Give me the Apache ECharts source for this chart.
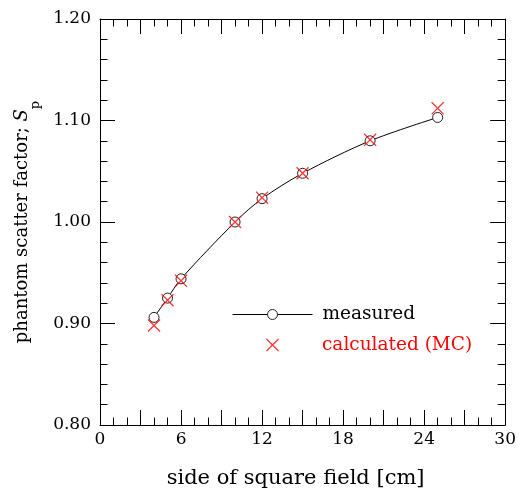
<!DOCTYPE html>
<html>
<head>
<meta charset="utf-8">
<script src="https://cdn.jsdelivr.net/npm/echarts@6/dist/echarts.min.js"></script>
<style>
  html, body { margin: 0; padding: 0; background: #fff; }
  #chart { width: 519px; height: 494px; }
</style>
</head>
<body>
<div id="chart"></div>
<script>
// Side of square field [cm]
const fieldSizes = [4, 5, 6, 10, 12, 15, 20, 25];
// Phantom scatter factor Sp, measured
const measured = [0.906, 0.925, 0.944, 1.000, 1.023, 1.048, 1.080, 1.103];
// Phantom scatter factor Sp, Monte Carlo calculation
const calculated = [0.898, 0.923, 0.942, 1.000, 1.024, 1.048, 1.081, 1.112];

const xTicks = { min: 0, max: 30, interval: 3, labelStep: 6 };
const yTicks = { min: 0.8, max: 1.2, interval: 0.1 };

const FONT = 'DejaVu Serif';
const RED = '#ff0000';
// thin filled "x" marker
const CROSS = 'path://M0,0.7L0.7,0L10,9.3L9.3,10Z M9.3,0L10,0.7L0.7,10L0,9.3Z';

const chart = echarts.init(document.getElementById('chart'), null, { renderer: 'canvas' });

function xAxisCfg(pos, labels) {
  return {
    type: 'value', position: pos, min: xTicks.min, max: xTicks.max, interval: xTicks.interval,
    axisLine: { show: true, onZero: false, lineStyle: { color: '#000', width: 1 } },
    axisTick: { show: true, inside: true, length: 15, lineStyle: { color: '#000', width: 1 } },
    minorTick: { show: true, splitNumber: 3, length: 7.5, lineStyle: { color: '#000', width: 1 } },
    splitLine: { show: false },
    axisLabel: {
      show: labels, margin: 6, color: '#000', fontFamily: FONT, fontSize: 17,
      formatter: v => (v % xTicks.labelStep === 0 ? String(v) : '')
    }
  };
}
function yAxisCfg(pos, labels) {
  return {
    type: 'value', position: pos, min: yTicks.min, max: yTicks.max, interval: yTicks.interval,
    axisLine: { show: true, onZero: false, lineStyle: { color: '#000', width: 1 } },
    axisTick: { show: true, inside: true, length: 15, lineStyle: { color: '#000', width: 1 } },
    minorTick: { show: true, splitNumber: 5, length: 7.5, lineStyle: { color: '#000', width: 1 } },
    splitLine: { show: false },
    axisLabel: {
      show: labels, margin: 9, color: '#000', fontFamily: FONT, fontSize: 17,
      formatter: v => v.toFixed(2)
    }
  };
}

const xBottom = Object.assign(xAxisCfg('bottom', true), {
  name: 'side of square field [cm]', nameLocation: 'middle', nameGap: 43,
  nameTextStyle: { fontFamily: FONT, fontSize: 21, color: '#000', padding: [0, 14, 0, 0] }
});
const yLeft = Object.assign(yAxisCfg('left', true), {
  name: '{a|phantom scatter factor; }{s|S}{p|p}', nameLocation: 'middle', nameRotate: 90, nameGap: 49,
  nameTextStyle: {
    fontFamily: FONT, fontSize: 18, color: '#000',
    rich: {
      a: { fontFamily: FONT, fontSize: 18, lineHeight: 40, verticalAlign: 'middle' },
      s: { fontFamily: FONT, fontSize: 18, fontStyle: 'italic', lineHeight: 40, verticalAlign: 'middle' },
      p: { fontFamily: FONT, fontSize: 13, lineHeight: 18, verticalAlign: 'bottom' }
    }
  }
});

const option = {
  animation: false,
  backgroundColor: '#fff',
  grid: { left: 100, right: 11, top: 19, bottom: 68, containLabel: false },
  xAxis: [xBottom, xAxisCfg('top', false)],
  yAxis: [yLeft, yAxisCfg('right', false)],
  legend: [
    {
      left: 232, top: 305, padding: 0, orient: 'vertical', itemWidth: 80, itemHeight: 12.5,
      selectedMode: false,
      lineStyle: { width: 1, color: '#000' },
      itemStyle: { borderWidth: 1, borderColor: '#222', color: '#fff' },
      textStyle: { fontFamily: FONT, fontSize: 18.5, color: '#000', padding: [0, 0, 0, 5] },
      data: ['measured']
    },
    {
      left: 266, top: 335.5, padding: 0, orient: 'vertical', itemWidth: 13, itemHeight: 13,
      selectedMode: false,
      textStyle: { fontFamily: FONT, fontSize: 18.5, color: RED, padding: [0, 0, 0, 38] },
      data: ['calculated (MC)']
    }
  ],
  series: [
    {
      name: 'measured', type: 'line', xAxisIndex: 0, yAxisIndex: 0,
      data: fieldSizes.map((x, i) => [x, measured[i]]),
      smooth: 0.3,
      symbol: 'circle', symbolSize: 10, showAllSymbol: true,
      lineStyle: { color: '#000', width: 1 },
      itemStyle: { color: '#fff', borderColor: '#222', borderWidth: 1 },
      z: 2
    },
    {
      name: 'calculated (MC)', type: 'scatter', xAxisIndex: 0, yAxisIndex: 0,
      data: fieldSizes.map((x, i) => [x, calculated[i]]),
      symbol: CROSS, symbolSize: 13,
      itemStyle: { color: RED },
      z: 3
    }
  ]
};
chart.setOption(option);
</script>
</body>
</html>
